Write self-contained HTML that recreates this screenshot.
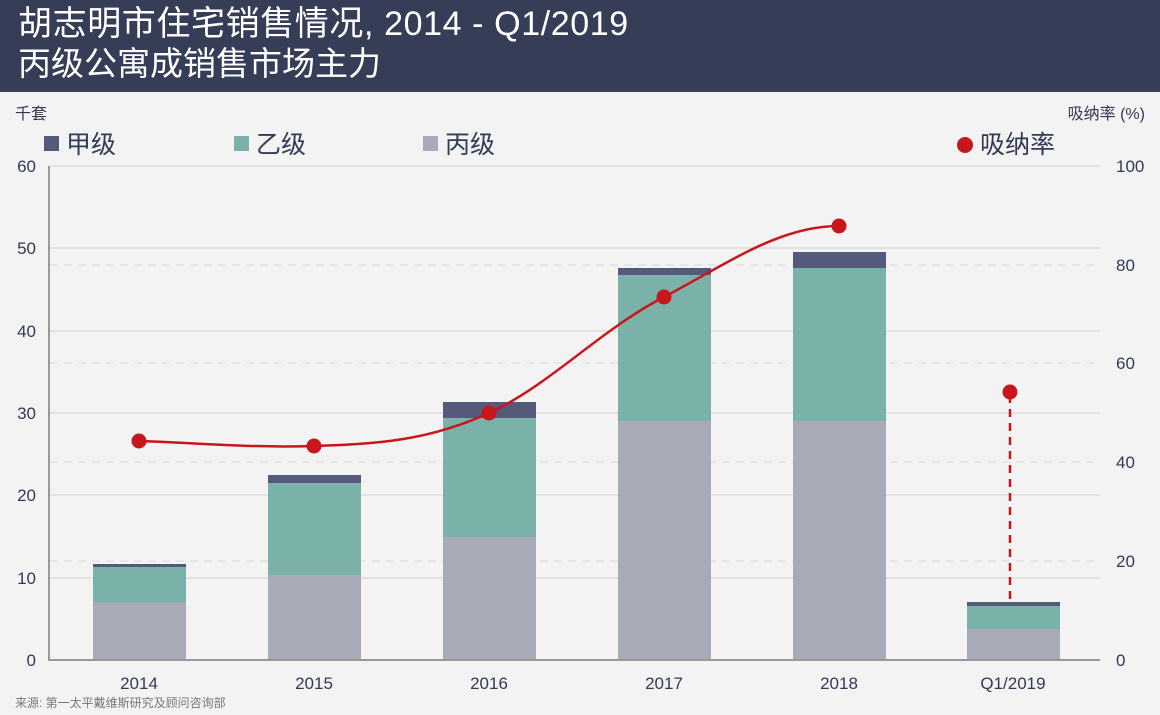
<!DOCTYPE html><html><head><meta charset="utf-8"><style>
body{margin:0;width:1160px;height:715px;background:#f3f3f3;font-family:"Liberation Sans","Noto Sans CJK SC",sans-serif;overflow:hidden}
.hd{position:absolute;left:0;top:0;width:1160px;height:92px;background:#363d57;color:#fff}
</style></head><body>
<div class="hd"><div style="position:absolute;left:18px;top:4px;font-size:34px;line-height:40px;letter-spacing:0.6px">胡志明市住宅销售情况, 2014 - Q1/2019</div>
<div style="position:absolute;left:18px;top:44px;font-size:33px;line-height:40px">丙级公寓成销售市场主力</div></div>
<svg width="1160" height="715" style="position:absolute;left:0;top:0" font-family="Liberation Sans, Noto Sans CJK SC, sans-serif">
<g stroke="#e2e2e2" stroke-width="2"><line x1="50" x2="1100" y1="166" y2="166"/><line x1="50" x2="1100" y1="248" y2="248"/><line x1="50" x2="1100" y1="331" y2="331"/><line x1="50" x2="1100" y1="413" y2="413"/><line x1="50" x2="1100" y1="495" y2="495"/><line x1="50" x2="1100" y1="578" y2="578"/></g>
<g stroke="#e2e2e2" stroke-width="1.5" stroke-dasharray="8,6"><line x1="50" x2="1100" y1="265" y2="265"/><line x1="50" x2="1100" y1="363" y2="363"/><line x1="50" x2="1100" y1="462" y2="462"/><line x1="50" x2="1100" y1="561" y2="561"/></g>
<g>
<rect x="93" y="602" width="93" height="58" fill="#a9aab8"/><rect x="93" y="567" width="93" height="35" fill="#7ab1a8"/><rect x="93" y="564" width="93" height="3" fill="#565a7a"/>
<rect x="268" y="575" width="93" height="85" fill="#a9aab8"/><rect x="268" y="483" width="93" height="92" fill="#7ab1a8"/><rect x="268" y="475" width="93" height="8" fill="#565a7a"/>
<rect x="443" y="537" width="93" height="123" fill="#a9aab8"/><rect x="443" y="418" width="93" height="119" fill="#7ab1a8"/><rect x="443" y="402" width="93" height="16" fill="#565a7a"/>
<rect x="618" y="421" width="93" height="239" fill="#a9aab8"/><rect x="618" y="275" width="93" height="146" fill="#7ab1a8"/><rect x="618" y="268" width="93" height="7" fill="#565a7a"/>
<rect x="793" y="421" width="93" height="239" fill="#a9aab8"/><rect x="793" y="268" width="93" height="153" fill="#7ab1a8"/><rect x="793" y="252" width="93" height="16" fill="#565a7a"/>
<rect x="967" y="629" width="93" height="31" fill="#a9aab8"/><rect x="967" y="606" width="93" height="23" fill="#7ab1a8"/><rect x="967" y="602" width="93" height="4" fill="#565a7a"/>
</g>
<line x1="49" y1="166" x2="49" y2="661" stroke="#999" stroke-width="2"/>
<line x1="48" y1="660" x2="1100" y2="660" stroke="#999" stroke-width="2"/>
<path d="M139,441 C200,443 250,448 314,446 C380,444 430,440 489,413 C550,385 600,330 664,297 C730,262 780,226 839,226" fill="none" stroke="#c8161d" stroke-width="2.5"/>
<line x1="1010" y1="395" x2="1010" y2="602" stroke="#c8161d" stroke-width="2.5" stroke-dasharray="8,6"/>
<g fill="#c8161d"><circle cx="139" cy="441" r="7.5"/><circle cx="314" cy="446" r="7.5"/><circle cx="489" cy="413" r="7.5"/><circle cx="664" cy="297" r="7.5"/><circle cx="839" cy="226" r="7.5"/><circle cx="1010" cy="392" r="7.5"/></g>
<g font-size="17" fill="#333a55" text-anchor="end"><text x="36" y="172">60</text><text x="36" y="254">50</text><text x="36" y="337">40</text><text x="36" y="419">30</text><text x="36" y="501">20</text><text x="36" y="584">10</text><text x="36" y="666">0</text></g>
<g font-size="17" fill="#333a55" text-anchor="start"><text x="1116" y="172">100</text><text x="1116" y="271">80</text><text x="1116" y="369">60</text><text x="1116" y="468">40</text><text x="1116" y="567">20</text><text x="1116" y="666">0</text></g>
<g font-size="17" fill="#333a55" text-anchor="middle"><text x="139" y="689">2014</text><text x="314" y="689">2015</text><text x="489" y="689">2016</text><text x="664" y="689">2017</text><text x="839" y="689">2018</text><text x="1013" y="689">Q1/2019</text></g>
<text x="15" y="119" font-size="16" fill="#333a55">千套</text>
<text x="1145" y="119" font-size="16" fill="#333a55" text-anchor="end">吸纳率 (%)</text>
<rect x="44" y="136" width="15" height="15" fill="#565a7a"/><text x="66" y="153" font-size="25" fill="#333a55">甲级</text>
<rect x="234" y="136" width="15" height="15" fill="#7ab1a8"/><text x="256" y="153" font-size="25" fill="#333a55">乙级</text>
<rect x="423" y="136" width="15" height="15" fill="#a9aab8"/><text x="445" y="153" font-size="25" fill="#333a55">丙级</text>
<circle cx="965" cy="145" r="8" fill="#c8161d"/><text x="980" y="153" font-size="25" fill="#333a55">吸纳率</text>
<text x="15" y="707" font-size="12" fill="#777">来源: 第一太平戴维斯研究及顾问咨询部</text>
</svg>
</body></html>
